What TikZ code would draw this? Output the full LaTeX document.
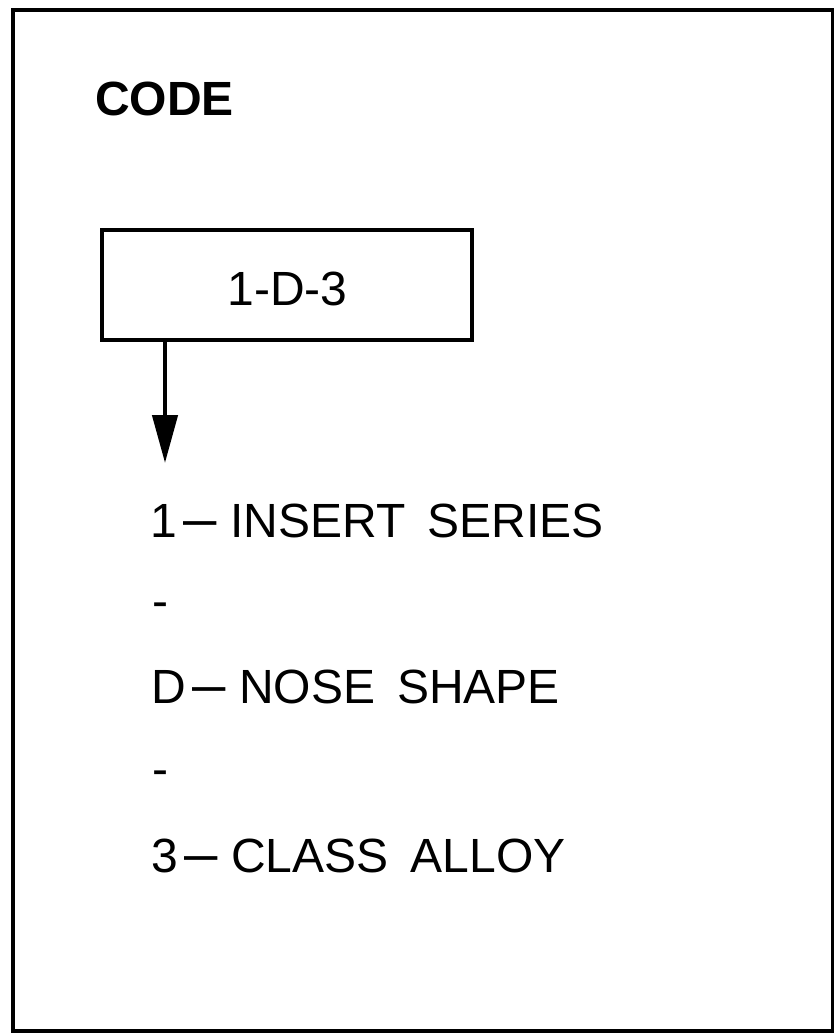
\documentclass[tikz,border=0pt]{standalone}
\usepackage{fontspec}
\usepackage{graphicx}
\setmainfont{Liberation Sans}
\usetikzlibrary{arrows.meta}
\tikzset{
  txt/.style={anchor=base west, inner sep=0pt, font=\fontsize{48pt}{56pt}\selectfont},
  codebox/.style={draw, line width=4.5pt, minimum width=370pt, minimum height=110pt, inner sep=0pt, font=\fontsize{48pt}{56pt}\selectfont},
  frame/.style={line width=4.5pt},
  link/.style={line width=4.5pt, -{Triangle[length=48pt,width=25pt]}}
}
\newcommand{\dashsep}[1]{#1\kern7pt\scalebox{1.25}[1.15]{--}\kern13pt}
\newcommand{\wsp}{\hspace{22pt}}
\begin{document}
\begin{tikzpicture}[x=1pt,y=-1pt]
\useasboundingbox (0,0) rectangle (834,1036);
\draw[frame] (13,10) rectangle (833,1031);
\node[txt, font=\fontsize{48pt}{56pt}\selectfont\bfseries] (code) at (95,115) {CODE};
\node[codebox] (box) at (287,285) {};
\node[anchor=base, inner sep=0pt, font=\fontsize{48pt}{56pt}\selectfont] (boxtxt) at (287.5,305) {1-D-3};
\coordinate (tip) at (165,463);
\draw[link] (box.south -| tip) -- (tip);
\node[txt] (l1) at (150,537) {\dashsep{1}INSERT\wsp SERIES};
\node[txt] (d1) at (152,617) {-};
\node[txt] (l2) at (151,703) {\dashsep{D}NOSE\wsp SHAPE};
\node[txt] (d2) at (152,785) {-};
\node[txt] (l3) at (151,872) {\dashsep{3}CLASS\wsp ALLOY};
\end{tikzpicture}
\end{document}
